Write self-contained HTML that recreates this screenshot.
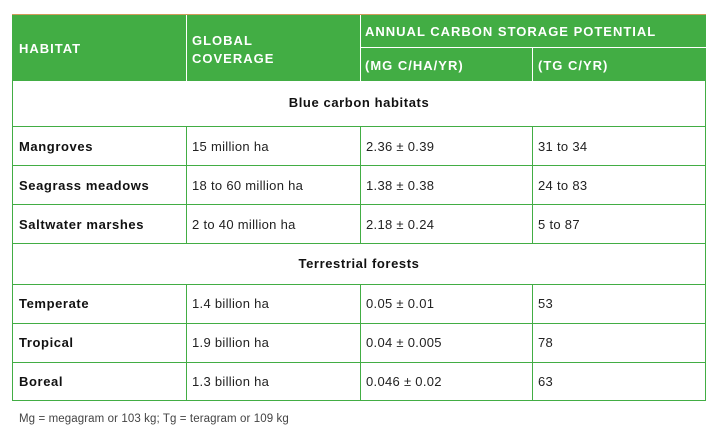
<!DOCTYPE html>
<html><head><meta charset="utf-8"><style>
body{margin:0;width:724px;height:437px;background:#fff;font-family:"Liberation Sans",sans-serif;position:relative;overflow:hidden}
.a{position:absolute;box-sizing:border-box}
.h{background:#42ad44;color:#fff;font-weight:bold;font-size:13px}
.hl{position:absolute;background:#fff}
.gl{position:absolute;background:#42ad44}
.t{position:absolute;font-size:13px;color:#222;white-space:nowrap;letter-spacing:0.3px}
.b{font-weight:bold;color:#111;letter-spacing:0.6px}
.w{color:#fff;font-weight:bold;letter-spacing:1.0px}
</style></head><body>
<div class="a h" style="left:12px;top:14px;width:694px;height:67px;border-top:1px solid #d09a5a"></div>
<div class="hl" style="left:186px;top:15px;width:1px;height:66px"></div>
<div class="hl" style="left:360px;top:15px;width:1px;height:66px"></div>
<div class="hl" style="left:360px;top:47px;width:346px;height:1px"></div>
<div class="hl" style="left:532px;top:47px;width:1px;height:34px"></div>
<div class="t w" style="left:19px;top:41px">HABITAT</div>
<div class="t w" style="left:192px;top:32px;line-height:18px">GLOBAL<br>COVERAGE</div>
<div class="t w" style="left:365px;top:24px">ANNUAL CARBON STORAGE POTENTIAL</div>
<div class="t w" style="left:365px;top:58px">(MG C/HA/YR)</div>
<div class="t w" style="left:538px;top:58px">(TG C/YR)</div>
<div class="a" style="left:12px;top:81px;width:694px;height:320px;border:1px solid #42ad44;border-top:none"></div>
<div id="rows"></div>
<div class="t" style="left:19px;top:413px;font-size:11.5px;color:#444;letter-spacing:0.1px">Mg = megagram or 103 kg; Tg = teragram or 109 kg</div>
<script>
const lines=[126,165,204,243,284,323,362];
const rows=[
[95,null,"Blue carbon habitats"],
[139,["Mangroves","15 million ha","2.36 ± 0.39","31 to 34"]],
[178,["Seagrass meadows","18 to 60 million ha","1.38 ± 0.38","24 to 83"]],
[217,["Saltwater marshes","2 to 40 million ha","2.18 ± 0.24","5 to 87"]],
[256,null,"Terrestrial forests"],
[296,["Temperate","1.4 billion ha","0.05 ± 0.01","53"]],
[335,["Tropical","1.9 billion ha","0.04 ± 0.005","78"]],
[374,["Boreal","1.3 billion ha","0.046 ± 0.02","63"]]];
const c=document.getElementById('rows');
lines.forEach(y=>{const d=document.createElement('div');d.className='gl';d.style.cssText=`left:12px;top:${y}px;width:694px;height:1px`;c.appendChild(d);});
[[126,243],[284,401]].forEach(([y0,y1])=>[186,360,532].forEach(x=>{const d=document.createElement('div');d.className='gl';d.style.cssText=`left:${x}px;top:${y0}px;width:1px;height:${y1-y0}px`;c.appendChild(d);}));
const xs=[19,192,366,538];
rows.forEach(r=>{
 if(!r[1]){const d=document.createElement('div');d.className='t b';d.style.cssText=`left:12px;width:694px;text-align:center;top:${r[0]}px`;d.textContent=r[2];
 
 
 c.appendChild(d);return;}
 r[1].forEach((s,i)=>{const d=document.createElement('div');d.className='t'+(i==0?' b':'');d.style.cssText=`left:${xs[i]}px;top:${r[0]}px`;d.textContent=s;
 
 
 c.appendChild(d);});
});
</script>
</body></html>
